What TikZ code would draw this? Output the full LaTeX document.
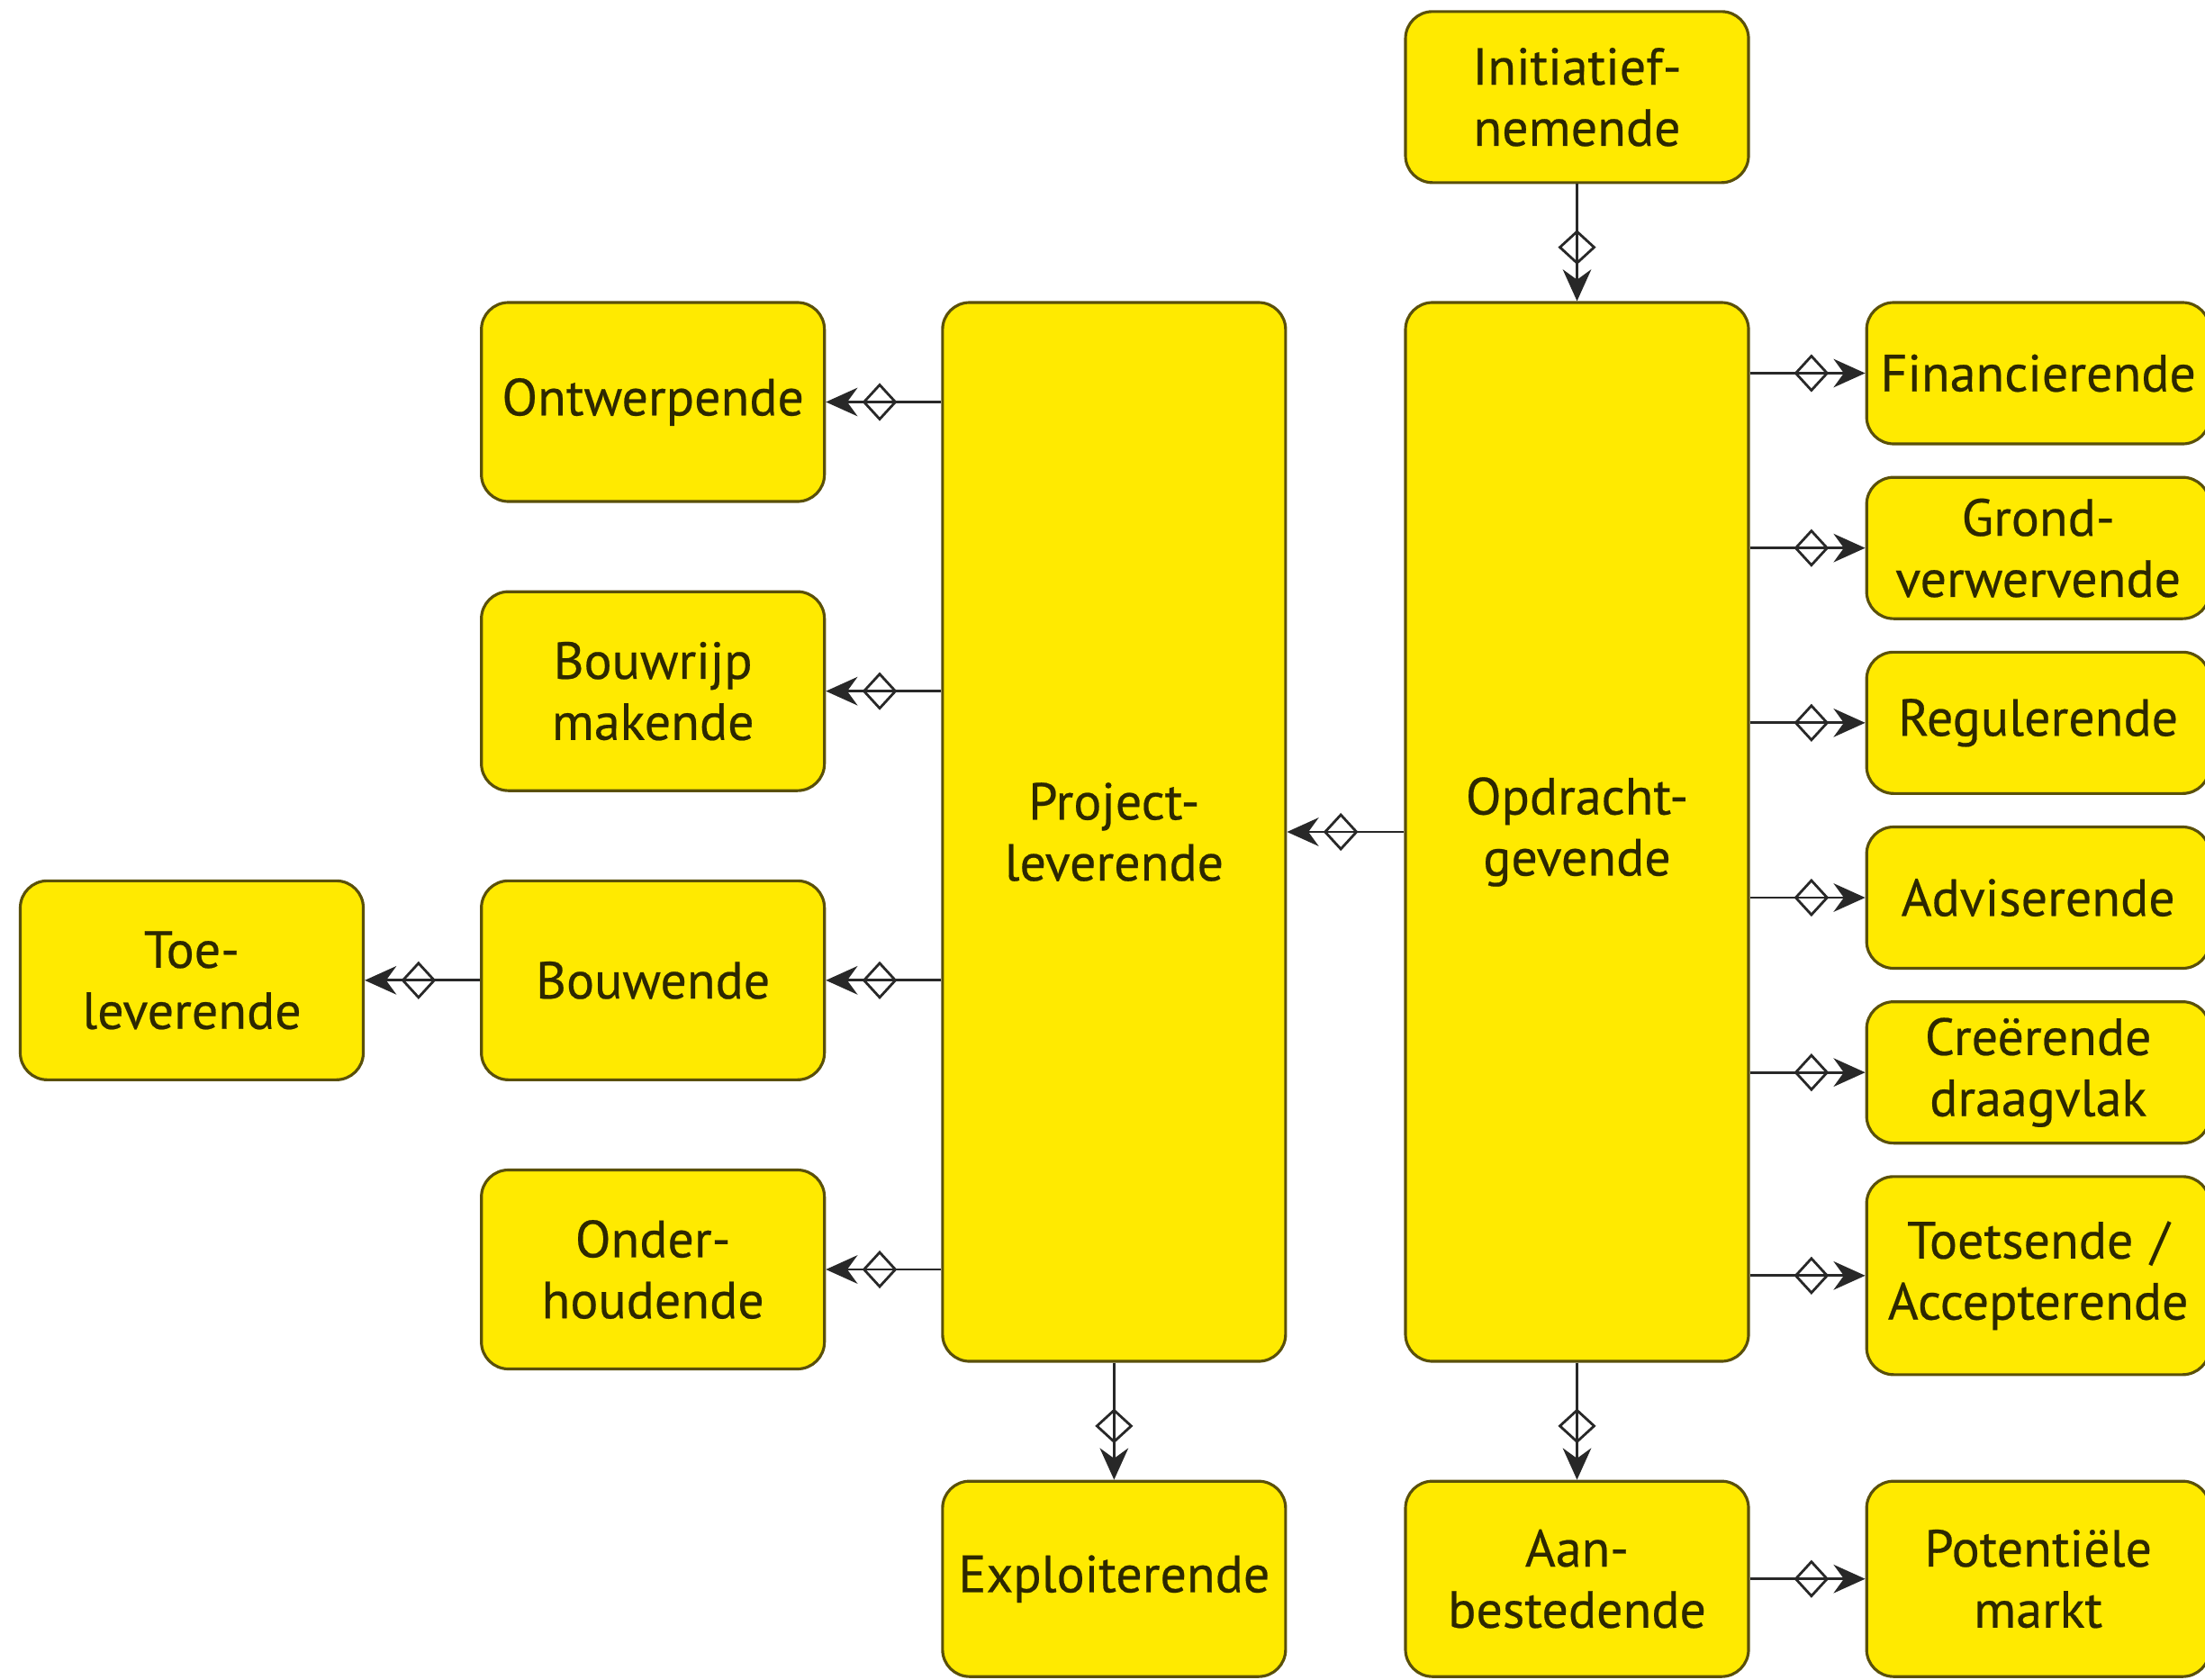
\documentclass[tikz,border=0pt]{standalone}
\usepackage{fontspec}
\setmainfont{PT Sans}[FakeBold=0.4]
\usetikzlibrary{arrows.meta,positioning}

\definecolor{geel}{RGB}{255,234,0}
\definecolor{rand}{RGB}{90,80,10}
\definecolor{lijn}{RGB}{40,40,40}
\definecolor{tekst}{RGB}{45,40,0}

\tikzset{
  blok/.style={draw=rand,fill=geel,line width=0.9pt,rounded corners=0.3cm,
    minimum width=3.81cm,text width=3.7cm,inner sep=0pt,align=center,
    text=tekst,font=\fontsize{16.5}{19.3}\selectfont},
  groot/.style={blok,minimum height=11.76cm},
  klein/.style={blok,minimum height=2.21cm},
  smal/.style={blok,minimum height=1.57cm},
  pijl/.style={color=lijn,line width=0.8pt,
    -{Diamond[open,length=11pt,width=12pt,line width=0.8pt,sep=1.5pt]Stealth[length=10pt,width=9pt]}}
}

\begin{document}
\begin{tikzpicture}[node distance=1.28cm]
\useasboundingbox (0,0) rectangle (24.49,-18.65);

\node[groot]   (opdr) at (17.515,-9.24)   {Opdracht-\\gevende};
\node[groot]   (proj)[left=1.3cm of opdr]   {Project-\\leverende};
\node[blok,minimum height=1.9cm]   (init)[above=1.3cm of opdr]   {Initiatief-\\nemende};

\node[klein]   (ontw)[below left=0cm and 1.28cm of proj.north west]   {Ontwerpende};
\node[klein]   (bouwr)[below=0.97cm of ontw]   {Bouwrijp\\makende};
\node[klein]   (bouw)[below=0.97cm of bouwr]   {Bouwende};
\node[klein]   (onder)[below=0.97cm of bouw]   {Onder-\\houdende};
\node[klein]   (toe)[left=of bouw]   {Toe-\\leverende};

\node[smal]   (fin)[below right=0cm and 1.28cm of opdr.north east]   {Financierende};
\node[smal]   (grond)[below=0.34cm of fin]   {Grond-\\verwervende};
\node[smal]   (regul)[below=0.34cm of grond]   {Regulerende};
\node[smal]   (advis)[below=0.34cm of regul]   {Adviserende};
\node[smal]   (creer)[below=0.34cm of advis]   {Creërende\\draagvlak};
\node[blok,minimum height=2.2cm]   (toets)[below=0.34cm of creer]   {Toetsende /\\Accepterende};

\node[blok,minimum height=2.17cm]   (expl)[below=1.3cm of proj]   {Exploiterende};
\node[blok,minimum height=2.17cm]   (aanb)[below=1.3cm of opdr]   {Aan-\\bestedende};
\node[blok,minimum height=2.17cm]   (pot)[right=of aanb]   {Potentiële\\markt};

\path[pijl] (init)  edge   (opdr)
            (opdr)  edge   (proj)
            (opdr)  edge   (aanb)
            (proj)  edge   (expl)
            (aanb)  edge   (pot)
            (bouw)  edge   (toe)
            (proj.west |- ontw)   edge   (ontw)
            (proj.west |- bouwr)  edge   (bouwr)
            (proj.west |- bouw)   edge   (bouw)
            (proj.west |- onder)  edge   (onder)
            (opdr.east |- fin)    edge   (fin)
            (opdr.east |- grond)  edge   (grond)
            (opdr.east |- regul)  edge   (regul)
            (opdr.east |- advis)  edge   (advis)
            (opdr.east |- creer)  edge   (creer)
            (opdr.east |- toets)  edge   (toets);

\end{tikzpicture}
\end{document}
